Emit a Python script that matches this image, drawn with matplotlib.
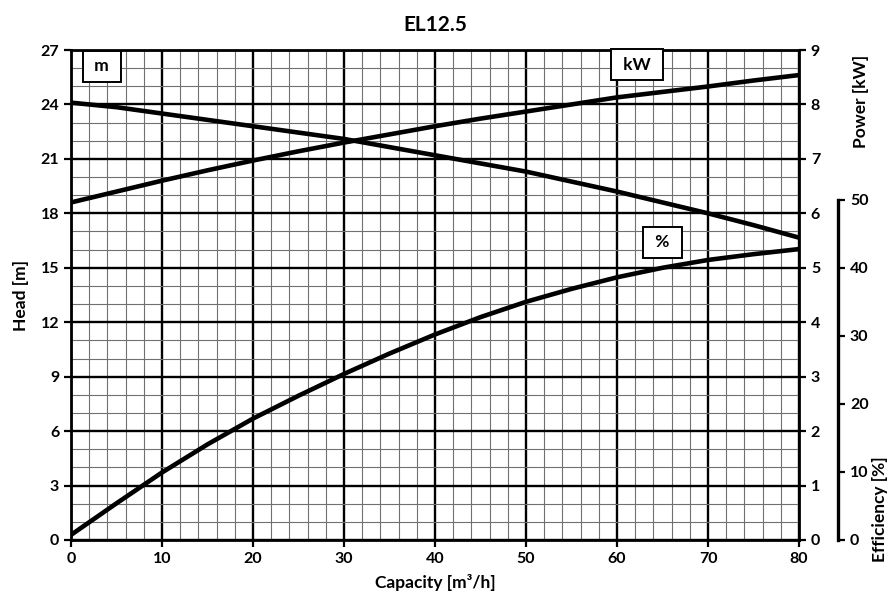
import matplotlib.pyplot as plt
from matplotlib.ticker import MultipleLocator

plt.rcParams['font.family'] = ['Lato', 'DejaVu Sans']
plt.rcParams['font.weight'] = 'bold'

# Pump curves
capacity = [0, 5, 10, 15, 20, 25, 30, 35, 40, 45, 50, 55, 60, 65, 70, 75, 80]
head = [24.1, 23.85, 23.5, 23.15, 22.8, 22.45, 22.1, 21.65, 21.2, 20.75, 20.3,
        19.75, 19.2, 18.6, 18.0, 17.35, 16.66]
power = [6.2, 6.4, 6.6, 6.79, 6.97, 7.14, 7.3, 7.45, 7.6, 7.74, 7.87,
         8.0, 8.13, 8.23, 8.33, 8.44, 8.54]
efficiency = [0.75, 5.39, 9.92, 14.05, 17.84, 21.2, 24.4, 27.4, 30.2, 32.75, 35.0,
              36.9, 38.6, 40.0, 41.15, 42.0, 42.75]

fig = plt.figure(figsize=(8.93, 5.99), dpi=100)
ax = fig.add_axes([0.0795, 0.0985, 0.8153, 0.818])

# Grid
ax.set_xlim(0, 80)
ax.set_ylim(0, 27)
ax.xaxis.set_major_locator(MultipleLocator(10))
ax.xaxis.set_minor_locator(MultipleLocator(2))
ax.yaxis.set_major_locator(MultipleLocator(3))
ax.yaxis.set_minor_locator(MultipleLocator(1))
ax.grid(which='major', color='black', linewidth=1.7)
ax.grid(which='minor', color='#707070', linewidth=0.8)
ax.set_axisbelow(True)
ax.tick_params(which='minor', length=0)
ax.tick_params(which='major', length=5, width=1.6, labelsize=11.5)
for s in ax.spines.values():
    s.set_linewidth(2)

ax.plot(capacity, head, color='black', linewidth=3.3, zorder=5)

# Power axis
axp = ax.twinx()
axp.set_ylim(0, 9)
axp.yaxis.set_major_locator(MultipleLocator(1))
axp.tick_params(length=5, width=1.6, labelsize=11.5)
axp.plot(capacity, power, color='black', linewidth=3.3, zorder=5)
for s in axp.spines.values():
    s.set_visible(False)

# Efficiency axis
axe = ax.twinx()
axe.set_ylim(0, 72)
axe.spines['right'].set_position(('axes', 1.0536))
axe.spines['right'].set_bounds(0, 50)
axe.spines['right'].set_linewidth(2.4)
for k in ['left', 'top', 'bottom']:
    axe.spines[k].set_visible(False)
axe.set_yticks([0, 10, 20, 30, 40, 50])
axe.tick_params(length=5, width=1.6, labelsize=11.5)
axe.plot(capacity, efficiency, color='black', linewidth=3.3, zorder=5)

# Curve tags
box = dict(boxstyle='square,pad=0.45', facecolor='white', edgecolor='black', linewidth=1.4)
ax.text(3.4, 26.1, ' m ', fontsize=12.5, ha='center', va='center', bbox=box, zorder=6)
ax.text(62.2, 26.2, ' kW ', fontsize=12.5, ha='center', va='center', bbox=box, zorder=6)
ax.text(65.0, 16.4, ' % ', fontsize=12.5, ha='center', va='center', bbox=box, zorder=6)

ax.set_title('EL12.5', fontsize=15, fontweight='bold', pad=14)
ax.set_xlabel('Capacity [m³/h]', fontsize=12.5, fontweight='bold', labelpad=6)
ax.set_ylabel('Head [m]', fontsize=12.5, fontweight='bold', labelpad=8)
fig.text(0.964, 0.83, 'Power [kW]', rotation=90, fontsize=12.5, fontweight='bold',
         ha='center', va='center')
fig.text(0.986, 0.15, 'Efficiency [%]', rotation=90, fontsize=12.5, fontweight='bold',
         ha='center', va='center')

fig.savefig('out.png', dpi=100)
